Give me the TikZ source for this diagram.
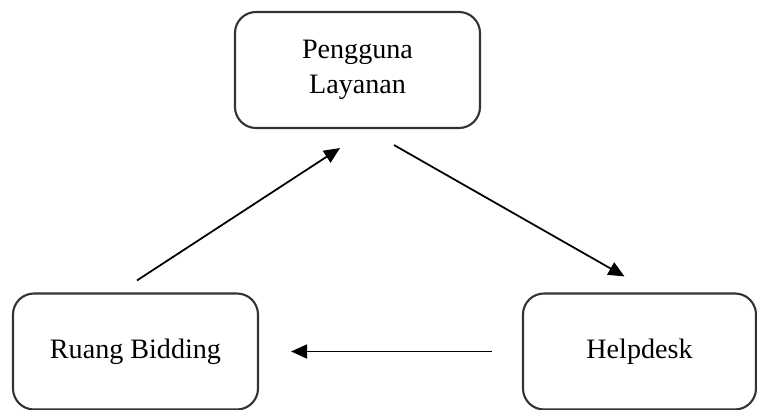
\documentclass[tikz,border=0pt]{standalone}
\usepackage{fontspec}
\setmainfont{Liberation Serif}
\usetikzlibrary{arrows.meta}

\tikzset{
	boxnode/.style={draw=black!80, line width=1.2pt, rounded corners=0.42cm, minimum width=4.9cm, minimum height=2.32cm, align=center, font=\fontsize{16}{20}\selectfont},
	arr/.style={line width=1pt, -{Triangle[length=0.32cm, width=0.28cm]}}
}

\begin{document}
\begin{tikzpicture}
	\useasboundingbox (0,0) rectangle (15.14,8.2);
	% Define nodes
	\node [boxnode] (pl) at (7.15,6.8) {Pengguna\\Layanan};
	\node [boxnode] (rb) at (2.71,1.17) {Ruang Bidding};
	\node [boxnode, minimum width=4.66cm] (hd) at (12.79,1.17) {Helpdesk};
	
	% Draw arrows between nodes
	\draw [arr] ([xshift=0.03cm, yshift=0.24cm]rb.north) -- ([xshift=-0.35cm, yshift=-0.38cm]pl.south);
	\draw [arr] ([xshift=0.73cm, yshift=-0.32cm]pl.south) -- ([xshift=-0.3cm, yshift=0.32cm]hd.north);
	\draw [arr, shorten <=0.6cm, shorten >=0.64cm] (hd.west) -- (rb.east);
\end{tikzpicture}
\end{document}
